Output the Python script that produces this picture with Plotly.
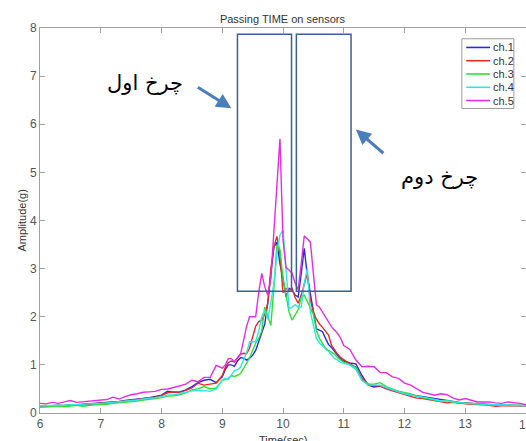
import plotly.graph_objects as go

# time axis (sec) - denser around the wheel passage
time_sec = [
    6.0, 6.1, 6.2, 6.3, 6.4, 6.5, 6.6, 6.7, 6.8, 6.9,
    7.0, 7.1, 7.2, 7.3, 7.4, 7.5, 7.6, 7.7, 7.8, 7.9,
    8.0, 8.1, 8.2, 8.3, 8.4, 8.5, 8.6, 8.7, 8.8, 8.9,
    9.0, 9.05, 9.1, 9.15, 9.2, 9.25, 9.3, 9.35, 9.4, 9.45,
    9.5, 9.55, 9.6, 9.65, 9.7, 9.75, 9.8, 9.85, 9.9, 9.95,
    10.0, 10.05, 10.1, 10.15, 10.2, 10.25, 10.3, 10.35, 10.4, 10.45,
    10.5, 10.55, 10.6, 10.65, 10.7, 10.75, 10.8, 10.85, 10.9, 10.95,
    11.0, 11.1, 11.2, 11.3, 11.4, 11.5, 11.6, 11.7, 11.8, 11.9,
    12.0, 12.1, 12.2, 12.3, 12.4, 12.5, 12.6, 12.7, 12.8, 12.9,
    13.0, 13.1, 13.2, 13.3, 13.4, 13.5, 13.6, 13.7, 13.8, 13.9, 14.0,
]

ch1 = [
    0.15, 0.14, 0.15, 0.16, 0.15, 0.17, 0.17, 0.18, 0.18, 0.19,
    0.20, 0.21, 0.22, 0.24, 0.26, 0.27, 0.29, 0.30, 0.32, 0.34,
    0.37, 0.45, 0.43, 0.44, 0.48, 0.55, 0.63, 0.68, 0.70, 0.63,
    0.75, 0.90, 1.00, 1.00, 0.97, 1.08, 1.15, 1.14, 1.10, 1.14,
    1.20, 1.30, 1.50, 1.70, 1.85, 2.30, 2.90, 3.45, 3.55, 3.10,
    2.80, 2.41, 2.59, 2.55, 2.45, 2.41, 2.90, 3.42, 2.85, 2.50,
    2.10, 1.75, 1.72, 1.69, 1.55, 1.42, 1.36, 1.28, 1.20, 1.12,
    1.08, 1.04, 1.02, 0.78, 0.58, 0.54, 0.56, 0.52, 0.48, 0.45,
    0.41, 0.38, 0.36, 0.33, 0.31, 0.30, 0.27, 0.25, 0.24, 0.22,
    0.21, 0.20, 0.19, 0.18, 0.17, 0.17, 0.16, 0.16, 0.16, 0.16, 0.15,
]

ch2 = [
    0.14, 0.15, 0.14, 0.15, 0.16, 0.16, 0.17, 0.17, 0.18, 0.19,
    0.20, 0.20, 0.22, 0.23, 0.25, 0.26, 0.28, 0.30, 0.31, 0.33,
    0.36, 0.42, 0.44, 0.43, 0.47, 0.52, 0.62, 0.58, 0.60, 0.62,
    0.78, 0.95, 1.05, 1.08, 1.06, 1.15, 1.22, 1.24, 1.23, 1.35,
    1.55, 1.80, 1.90, 1.93, 2.05, 2.28, 3.00, 3.45, 3.67, 3.30,
    2.50, 2.59, 2.55, 2.59, 2.40, 2.28, 2.45, 2.65, 2.90, 2.35,
    2.10, 1.95, 1.85, 1.78, 1.70, 1.62, 1.40, 1.30, 1.22, 1.15,
    1.10, 1.02, 0.95, 0.72, 0.60, 0.57, 0.56, 0.50, 0.46, 0.42,
    0.38, 0.35, 0.31, 0.30, 0.28, 0.26, 0.24, 0.21, 0.22, 0.20,
    0.19, 0.18, 0.18, 0.17, 0.16, 0.14, 0.15, 0.15, 0.16, 0.15, 0.15,
]

ch3 = [
    0.12, 0.13, 0.13, 0.14, 0.13, 0.15, 0.16, 0.14, 0.16, 0.17,
    0.18, 0.18, 0.20, 0.21, 0.22, 0.24, 0.25, 0.27, 0.28, 0.30,
    0.32, 0.35, 0.36, 0.38, 0.42, 0.48, 0.50, 0.55, 0.50, 0.52,
    0.68, 0.70, 0.72, 0.78, 0.76, 0.78, 0.82, 0.92, 1.03, 1.15,
    1.30, 1.45, 1.55, 1.70, 2.20, 2.00, 1.82, 2.60, 3.50, 3.40,
    2.80, 2.45, 2.10, 1.93, 2.05, 2.15, 2.40, 2.45, 2.32, 2.20,
    2.05, 1.72, 1.55, 1.44, 1.35, 1.30, 1.25, 1.22, 1.15, 1.10,
    1.05, 1.00, 0.95, 0.68, 0.60, 0.60, 0.63, 0.55, 0.50, 0.45,
    0.42, 0.40, 0.34, 0.32, 0.30, 0.27, 0.24, 0.26, 0.22, 0.21,
    0.20, 0.19, 0.18, 0.17, 0.17, 0.16, 0.16, 0.16, 0.17, 0.16, 0.15,
]

ch4 = [
    0.15, 0.15, 0.16, 0.15, 0.16, 0.17, 0.17, 0.18, 0.19, 0.19,
    0.20, 0.21, 0.22, 0.23, 0.24, 0.26, 0.27, 0.29, 0.30, 0.32,
    0.34, 0.37, 0.38, 0.40, 0.43, 0.46, 0.47, 0.47, 0.45, 0.50,
    0.68, 0.72, 0.70, 0.80, 0.88, 0.90, 0.95, 1.10, 1.25, 1.48,
    1.48, 1.48, 1.70, 2.00, 2.14, 1.95, 2.30, 2.69, 3.30, 3.70,
    3.80, 2.90, 2.17, 2.20, 2.25, 2.20, 2.20, 2.70, 3.00, 2.10,
    1.85, 1.55, 1.45, 1.40, 1.33, 1.28, 1.20, 1.13, 1.10, 1.05,
    1.03, 1.00, 0.90, 0.68, 0.58, 0.58, 0.58, 0.53, 0.48, 0.44,
    0.40, 0.38, 0.35, 0.33, 0.31, 0.28, 0.25, 0.25, 0.24, 0.22,
    0.20, 0.20, 0.19, 0.18, 0.18, 0.17, 0.17, 0.17, 0.16, 0.16, 0.15,
]

ch5 = [
    0.20, 0.19, 0.22, 0.20, 0.23, 0.26, 0.22, 0.23, 0.24, 0.25,
    0.26, 0.28, 0.33, 0.29, 0.34, 0.38, 0.40, 0.43, 0.44, 0.45,
    0.49, 0.50, 0.53, 0.56, 0.60, 0.68, 0.65, 0.74, 0.74, 0.99,
    0.93, 1.00, 1.13, 1.13, 1.06, 1.15, 1.22, 1.50, 1.80, 2.00,
    2.00, 2.00, 2.50, 2.90, 2.62, 2.45, 2.80, 3.80, 4.90, 5.70,
    3.60, 3.02, 2.97, 2.90, 2.70, 2.56, 3.10, 3.68, 3.62, 3.55,
    2.90, 2.25, 2.20, 2.10, 1.98, 1.88, 1.79, 1.72, 1.65, 1.55,
    1.40, 1.32, 1.10, 0.96, 0.97, 0.96, 0.84, 0.84, 0.75, 0.72,
    0.62, 0.58, 0.50, 0.43, 0.40, 0.37, 0.40, 0.38, 0.31, 0.27,
    0.30, 0.26, 0.23, 0.23, 0.23, 0.21, 0.20, 0.23, 0.22, 0.20, 0.17,
]

names = ['ch.1', 'ch.2', 'ch.3', 'ch.4', 'ch.5']
series = [ch1, ch2, ch3, ch4, ch5]
colors = ['#2a2ae6', '#e62a2a', '#2ee02e', '#2ee6e6', '#e22ee2']

fig = go.Figure()
for name, vals, col in zip(names, series, colors):
    fig.add_trace(go.Scatter(x=time_sec, y=vals, mode='lines', name=name,
                             line=dict(color=col, width=1.4), showlegend=False))

# boxes around the two wheels
box_col = '#3d5f97'
fig.add_shape(type='rect', x0=9.25, x1=10.14, y0=2.53, y1=7.87, xref='x', yref='y',
              line=dict(color=box_col, width=1.5))
fig.add_shape(type='rect', x0=10.22, x1=11.12, y0=2.53, y1=7.87, xref='x', yref='y',
              line=dict(color=box_col, width=1.5))

# arrows + persian labels
arrow_col = '#4a7ebb'
fig.add_annotation(x=9.15, y=6.33, ax=-35, ay=-22, text='', showarrow=True,
                   arrowhead=2, arrowsize=1, arrowwidth=3, arrowcolor=arrow_col)
fig.add_annotation(x=11.2, y=5.89, ax=29, ay=25, text='', showarrow=True,
                   arrowhead=2, arrowsize=1, arrowwidth=3, arrowcolor=arrow_col)
fig.add_annotation(x=7.73, y=6.85, text='چرخ اول', showarrow=False,
                   font=dict(family='DejaVu Sans', size=21, color='black'))
fig.add_annotation(x=12.58, y=4.9, text='چرخ دوم', showarrow=False,
                   font=dict(family='DejaVu Sans', size=21, color='black'))

# legend drawn by hand (MATLAB-like compact box)
fig.add_shape(type='rect', xref='paper', yref='paper', x0=0.868, x1=0.975, y0=0.791, y1=0.972,
              line=dict(color='#9a9a9a', width=1), fillcolor='white')
for i, (name, col) in enumerate(zip(names, colors)):
    yy = 0.9495 - i * 0.0345
    fig.add_shape(type='line', xref='paper', yref='paper', x0=0.877, x1=0.926, y0=yy, y1=yy,
                  line=dict(color=col, width=1.6))
    fig.add_annotation(xref='paper', yref='paper', x=0.929, y=yy, text=name, showarrow=False,
                       xanchor='left', yanchor='middle',
                       font=dict(family='Arial', size=11, color='#333'))

# last x tick label sits on the image edge (cut in the original)
fig.add_annotation(xref='x', yref='paper', x=14, y=0, yshift=-3, yanchor='top', xanchor='center',
                   text='14', showarrow=False, font=dict(family='Arial', size=12, color='#555'))

# axis titles
fig.add_annotation(xref='paper', yref='paper', x=0.5, y=0, yshift=-19, yanchor='top',
                   text='Time(sec)', showarrow=False,
                   font=dict(family='Arial', size=11, color='#333'))
fig.add_annotation(xref='paper', yref='paper', x=0, y=0.5, xshift=-19, textangle=-90,
                   xanchor='center', yanchor='middle',
                   text='Amplitude(g)', showarrow=False,
                   font=dict(family='Arial', size=11, color='#333'))

fig.update_layout(
    width=526, height=441,
    margin=dict(l=40, r=0, t=28, b=28),
    plot_bgcolor='white', paper_bgcolor='white',
    title=dict(text='Passing TIME on sensors', x=0.537, xanchor='center', y=0.957, yanchor='middle',
               font=dict(family='Arial', size=11, color='#333')),
    font=dict(family='Arial', size=12, color='#555'),
)
fig.update_xaxes(range=[6, 14], dtick=1, showgrid=False, zeroline=False,
                 showline=True, linecolor='#a0a0a0', linewidth=1, mirror='ticks',
                 ticks='inside', ticklen=5, tickcolor='#a0a0a0')
fig.update_yaxes(range=[0, 8], dtick=1, showgrid=False, zeroline=False,
                 showline=True, linecolor='#a0a0a0', linewidth=1, mirror='ticks',
                 ticks='inside', ticklen=5, tickcolor='#a0a0a0')

fig.write_html("out.html", config={'displayModeBar': False},
               post_script="document.body.style.margin='0px';")
